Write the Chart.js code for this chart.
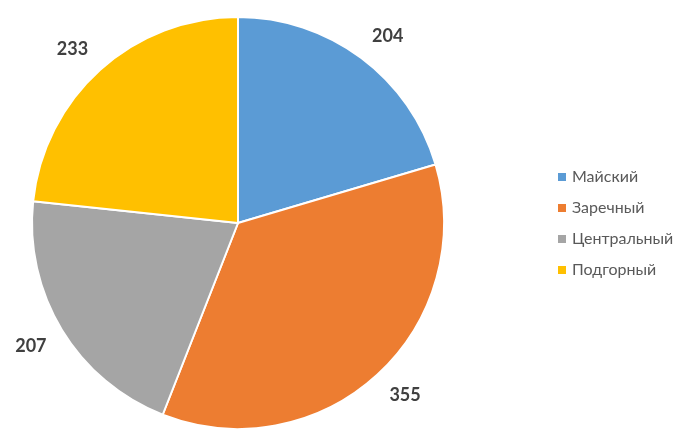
<!DOCTYPE html>
<html>
<head>
<meta charset="utf-8">
<script src="https://cdn.jsdelivr.net/npm/chart.js@4"></script>
<style>
  html, body { margin: 0; padding: 0; background: #fff; }
  #wrap { width: 679px; height: 442px; }
</style>
</head>
<body>
<div id="wrap"><canvas id="chart"></canvas></div>
<script>
const labels = ['Майский', 'Заречный', 'Центральный', 'Подгорный'];
const values = [204, 355, 207, 233];
const colors = ['#5B9BD5', '#ED7D31', '#A5A5A5', '#FFC000'];

const FONT = 'Lato, "Open Sans", sans-serif';

// value labels outside each slice: the box corner nearest the pie sits on a ring
const outsideLabels = {
  id: 'outsideLabels',
  afterDatasetsDraw(chart) {
    const ctx = chart.ctx;
    const meta = chart.getDatasetMeta(0);
    ctx.save();
    ctx.font = 'bold 18px ' + FONT;
    ctx.fillStyle = '#404040';
    ctx.textBaseline = 'middle';
    meta.data.forEach((arc, i) => {
      const mid = (arc.startAngle + arc.endAngle) / 2;
      const r = arc.outerRadius + 18;
      const cx = Math.cos(mid), sy = Math.sin(mid);
      const ax = arc.x + cx * r;
      const ay = arc.y + sy * r;
      ctx.textAlign = cx >= 0 ? 'left' : 'right';
      ctx.fillText(values[i], ax, ay + (sy >= 0 ? 7 : -7));
    });
    ctx.restore();
  }
};

// legend drawn at the right, like the original
const sideLegend = {
  id: 'sideLegend',
  afterDraw(chart) {
    const ctx = chart.ctx;
    ctx.save();
    ctx.font = '16px ' + FONT;
    ctx.textBaseline = 'middle';
    labels.forEach((name, i) => {
      const y = 177 + i * 31;
      ctx.fillStyle = colors[i];
      ctx.fillRect(558, y - 4, 8, 8);
      ctx.fillStyle = '#595959';
      ctx.fillText(name, 572, y);
    });
    ctx.restore();
  }
};

new Chart(document.getElementById('chart'), {
  type: 'pie',
  data: {
    labels: labels,
    datasets: [{
      data: values,
      backgroundColor: colors,
      borderColor: '#ffffff',
      borderWidth: 2
    }]
  },
  options: {
    responsive: true,
    maintainAspectRatio: false,
    animation: false,
    layout: { padding: { left: 31, right: 234, top: 16, bottom: 12 } },
    plugins: {
      legend: { display: false },
      tooltip: { enabled: false }
    }
  },
  plugins: [outsideLabels, sideLegend]
});
</script>
</body>
</html>
